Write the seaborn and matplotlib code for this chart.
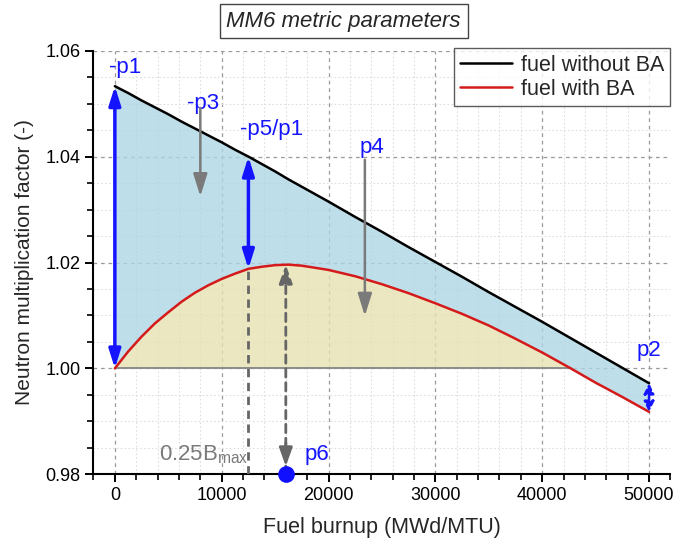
import numpy as np
import matplotlib
matplotlib.use("Agg")
import matplotlib.pyplot as plt
from matplotlib.ticker import MultipleLocator
import seaborn as sns

# Burnup points (MWd/MTU) and multiplication factors
burnup = [0, 1250, 2500, 3750, 5000, 6250, 7500, 8750, 10000, 11250, 12500,
          13750, 15000, 16250, 17500, 18750, 20000, 22500, 25000, 27500, 30000,
          32500, 35000, 37500, 40000, 42500, 45000, 47500, 50000]
k_without_ba = [1.0533, 1.0520, 1.0506, 1.0493, 1.0480, 1.0466, 1.0453, 1.0440,
                1.0427, 1.0413, 1.0400, 1.0386, 1.0372, 1.0357, 1.0343, 1.0329,
                1.0315, 1.0286, 1.0258, 1.0229, 1.0201, 1.0173, 1.0144, 1.0116,
                1.0088, 1.0059, 1.0030, 1.0001, 0.9972]
k_with_ba = [1.0000, 1.0032, 1.0060, 1.0085, 1.0106, 1.0126, 1.0143, 1.0157,
             1.0169, 1.0179, 1.0188, 1.0192, 1.0195, 1.0196, 1.0194, 1.0190,
             1.0186, 1.0174, 1.0159, 1.0142, 1.0123, 1.0103, 1.0081, 1.0056,
             1.0030, 1.0002, 0.9973, 0.9946, 0.9918]

x_ticks = [0, 10000, 20000, 30000, 40000, 50000]
y_ticks = [0.98, 1.00, 1.02, 1.04, 1.06]

# Metric markers
b_quarter = 12500      # 0.25 * Bmax
b_peak = 16000         # burnup of the BA-fuel maximum
k_peak = 1.0196
arrow_p3 = (8000, 1.0492, 1.0325)
arrow_p4 = (23400, 1.0394, 1.0099)

sns.set_theme(style="ticks")
plt.rcParams["font.family"] = ["Liberation Sans", "DejaVu Sans"]
plt.rcParams["mathtext.fontset"] = "custom"
plt.rcParams["mathtext.rm"] = "Liberation Sans"
plt.rcParams["mathtext.it"] = "Liberation Sans:italic"

BLUE = "#1414ff"
GRAY = "#7a7a7a"
DOUBLE_HEAD = "<|-|>,head_width=0.22,head_length=0.7"

fig = plt.figure(figsize=(6.9, 5.47), dpi=100)
ax = fig.add_axes([0.1355, 0.1329, 0.8361, 0.7744])

b = np.array(burnup, dtype=float)
k0 = np.array(k_without_ba)
k1 = np.array(k_with_ba)

# Shaded regions
ax.fill_between(b, k1, k0, color=(174/255, 214/255, 228/255), alpha=0.8,
                linewidth=0, zorder=1)
ax.fill_between(b, 1.0, k1, where=k1 >= 1.0, interpolate=True,
                color=(230/255, 225/255, 178/255), alpha=0.8, linewidth=0, zorder=1.5)

# base line under the BA-fuel hump
pos = k1 >= 1.0
i = np.where(pos)[0][-1]
b_cross = b[i] + (k1[i] - 1.0) / (k1[i] - k1[i + 1]) * (b[i + 1] - b[i])
ax.plot([0, b_cross], [1.0, 1.0], color="#8c8c8c", lw=1.4, zorder=2)

sns.lineplot(x=b, y=k0, color="black", lw=1.8, ax=ax, label="fuel without BA", zorder=4)
sns.lineplot(x=b, y=k1, color="#d41a1a", lw=1.8, ax=ax, label="fuel with BA", zorder=4)

# Gray dashed guides
ax.plot([b_quarter, b_quarter], [0.98, np.interp(b_quarter, b, k1)],
        color="#666666", lw=2, ls=(0, (3, 2)), zorder=3)
ax.annotate("", xy=(b_peak, k_peak), xytext=(b_peak, 0.98),
            arrowprops=dict(arrowstyle="-|>,head_width=0.25,head_length=0.7",
                            color="#666666", lw=2, ls=(0, (3, 2)),
                            mutation_scale=16, shrinkA=0, shrinkB=0), zorder=3)
ax.annotate("", xy=(b_peak, 0.9815), xytext=(b_peak, 0.986),
            arrowprops=dict(arrowstyle="-|>,head_width=0.25,head_length=0.7",
                            color="#666666", lw=2, mutation_scale=16,
                            shrinkA=0, shrinkB=0), zorder=3)
ax.plot([b_peak], [0.98], "o", color="#1010ff", ms=11, zorder=6, clip_on=False)

# Gray one-way arrows
for xa, y_top, y_tip in (arrow_p3, arrow_p4):
    ax.annotate("", xy=(xa, y_tip), xytext=(xa, y_top),
                arrowprops=dict(arrowstyle="-|>,head_width=0.25,head_length=0.8",
                                color=GRAY, lw=1.8, mutation_scale=17,
                                shrinkA=0, shrinkB=0), zorder=5)

# Blue double arrows
ax.annotate("", xy=(0, k_with_ba[0]), xytext=(0, k_without_ba[0]),
            arrowprops=dict(arrowstyle=DOUBLE_HEAD, color=BLUE, lw=2.5,
                            mutation_scale=16, shrinkA=0, shrinkB=0), zorder=5)
ax.annotate("", xy=(b_quarter, np.interp(b_quarter, b, k1)),
            xytext=(b_quarter, np.interp(b_quarter, b, k0)),
            arrowprops=dict(arrowstyle=DOUBLE_HEAD, color=BLUE, lw=2.5,
                            mutation_scale=16, shrinkA=0, shrinkB=0), zorder=5)
ax.annotate("", xy=(50000, k_with_ba[-1]), xytext=(50000, k_without_ba[-1]),
            arrowprops=dict(arrowstyle="<|-|>,head_width=0.3,head_length=0.6",
                            color=BLUE, lw=1.8, ls=(0, (2, 1.5)),
                            mutation_scale=10, shrinkA=0, shrinkB=0), zorder=5)

# Labels
fs = 16
ax.text(1000, 1.0568, "-p1", color=BLUE, fontsize=fs, ha="center", va="center")
ax.text(8300, 1.0500, "-p3", color=BLUE, fontsize=fs, ha="center", va="center")
ax.text(14700, 1.0451, "-p5/p1", color=BLUE, fontsize=fs, ha="center", va="center")
ax.text(24100, 1.0417, "p4", color=BLUE, fontsize=fs, ha="center", va="center")
ax.text(50000, 1.0034, "p2", color=BLUE, fontsize=fs, ha="center", va="center")
ax.text(18900, 0.9837, "p6", color=BLUE, fontsize=fs, ha="center", va="center")
ax.text(12500, 0.9837, r"0.25B$_{\mathregular{max}}$", color=GRAY, fontsize=fs,
        ha="right", va="center")

# Axes, ticks and grid
ax.set_xlim(-2000, 52000)
ax.set_ylim(0.98, 1.06)
ax.set_xticks(x_ticks)
ax.set_yticks(y_ticks)
ax.set_yticklabels([f"{v:.2f}" for v in y_ticks])
ax.xaxis.set_minor_locator(MultipleLocator(2000))
ax.yaxis.set_minor_locator(MultipleLocator(0.005))
ax.tick_params(which="major", direction="out", length=6, width=1.4,
               labelsize=13, colors="black")
ax.tick_params(which="minor", direction="out", length=4, width=1.2, colors="black")
ax.grid(which="major", color="#9a9a9a", ls=(0, (3, 3)), lw=0.9)
ax.grid(which="minor", color="#dedede", ls=(0, (1.5, 2)), lw=0.8)
ax.set_axisbelow(True)
for side in ("top", "right"):
    ax.spines[side].set_visible(False)
for side in ("left", "bottom"):
    ax.spines[side].set_linewidth(1.5)
    ax.spines[side].set_color("black")

ax.set_xlabel("Fuel burnup (MWd/MTU)", fontsize=15.5, labelpad=9)
ax.set_ylabel("Neutron multiplication factor (-)", fontsize=15, labelpad=8)

leg = ax.legend(loc="upper right", bbox_to_anchor=(1.0, 1.006), fontsize=15.5,
                frameon=True, fancybox=False, edgecolor="#333333",
                borderaxespad=0, handlelength=2.4, handletextpad=0.4,
                borderpad=0.3, labelspacing=0.15)
leg.get_frame().set_linewidth(1.0)
leg.set_zorder(10)

fig.text(0.498, 0.9616, "MM6 metric parameters", style="italic", fontsize=16,
         ha="center", va="center",
         bbox=dict(boxstyle="square,pad=0.3", facecolor="white", edgecolor="#444444", lw=1))

fig.savefig("out.png", dpi=100)
